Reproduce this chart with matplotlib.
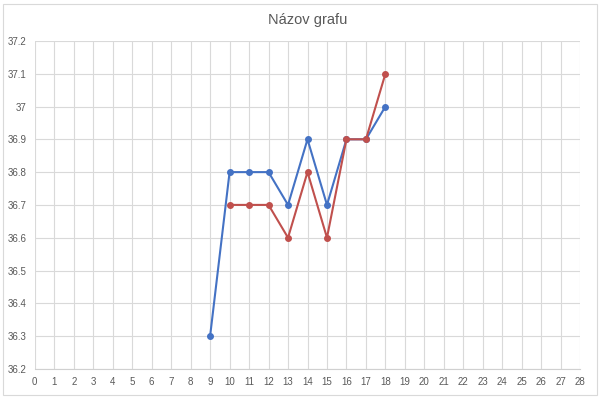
import matplotlib.pyplot as plt
import matplotlib.ticker as tkr
from matplotlib.patches import Rectangle

# DATA

blueX = [9, 10, 11, 12, 13, 14, 15, 16, 17, 18]
blueY = [36.3, 36.8, 36.8, 36.8, 36.7, 36.9, 36.7, 36.9, 36.9, 37.0]

redX = [10, 11, 12, 13, 14, 15, 16, 17, 18]
redY = [36.7, 36.7, 36.7, 36.6, 36.8, 36.6, 36.9, 36.9, 37.1]

title = "Názov grafu"

# FIGURE

plt.rcParams["font.family"] = ["Liberation Sans", "DejaVu Sans"]

figure = plt.figure(figsize=(6, 4.01), dpi=100)
figure.patches.append(Rectangle((0.005, 0.015), 0.99, 0.975, transform=figure.transFigure,
                                fill=False, edgecolor="#d9d9d9", linewidth=0.8))

axis = figure.add_axes([0.058, 0.080, 0.909, 0.818])
axis.set_title(title, fontsize=10.5, color="#595959", pad=12)

# AXIS SETUP

axis.set_xlim(0, 28)
axis.xaxis.set_major_locator(tkr.MultipleLocator(1))
axis.set_ylim(36.2, 37.2)
axis.yaxis.set_major_locator(tkr.MultipleLocator(0.1))
axis.yaxis.set_major_formatter(tkr.FuncFormatter(lambda v, p: ("%.1f" % v).rstrip("0").rstrip(".") if abs(v - 37) < 1e-6 else "%.1f" % v))

axis.tick_params(length=0, labelsize=7, colors="#595959", pad=6)
for spine in axis.spines.values():
    spine.set_visible(False)
axis.spines["bottom"].set_visible(True)
axis.spines["bottom"].set_color("#d0d0d0")

axis.grid(which="major", color="#d9d9d9", linewidth=0.8)
axis.set_axisbelow(True)

# PLOT

axis.plot(blueX, blueY, color="#4472C4", linewidth=1.5, marker="o", markersize=4)
axis.plot(redX, redY, color="#C0504D", linewidth=1.5, marker="o", markersize=4)

figure.savefig("out.png")
